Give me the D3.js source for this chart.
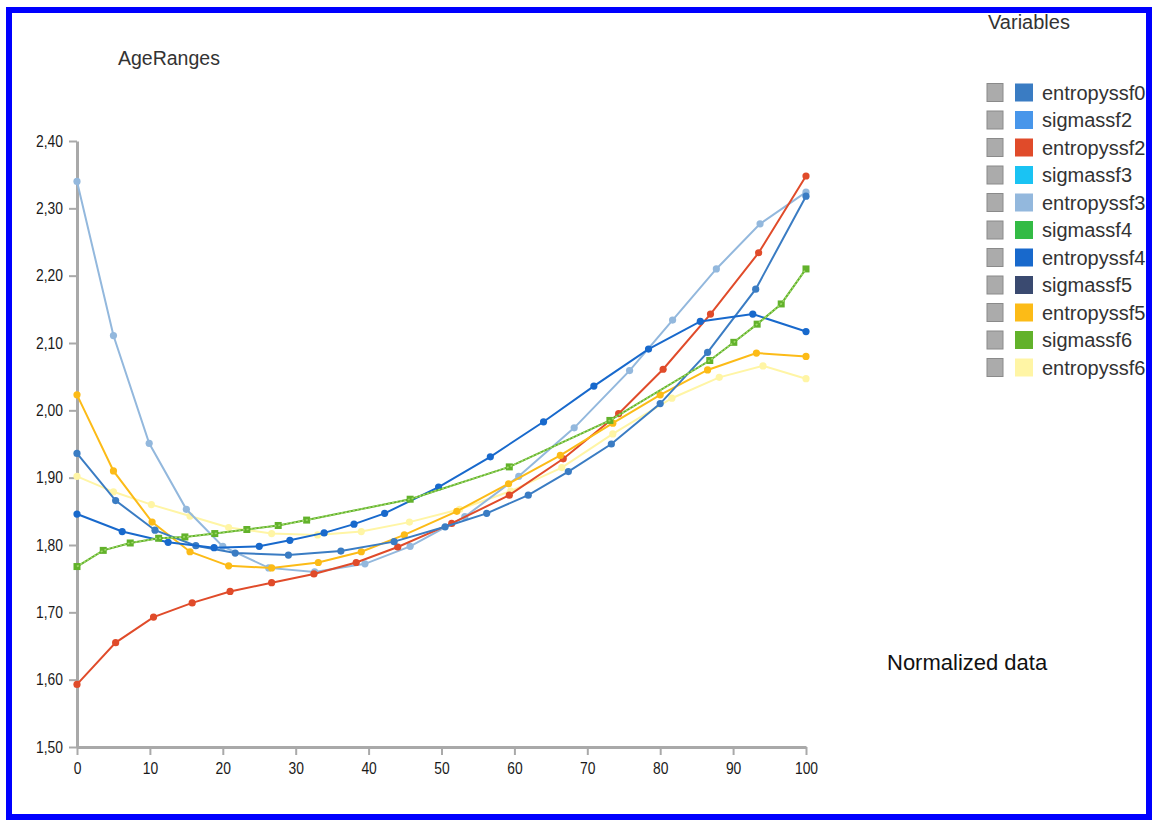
<!DOCTYPE html>
<html>
<head>
<meta charset="utf-8">
<script src="https://cdn.jsdelivr.net/npm/d3@7"></script>
<style>
  body { margin: 0; background: #fff; }
  svg { display: block; }
  text { font-family: "Liberation Sans", Arial, sans-serif; }
</style>
</head>
<body>
<div id="chart"></div>
<script>
// Chart data: [AgeRanges, value]
const xTicks = [0, 10, 20, 30, 40, 50, 60, 70, 80, 90, 100];
const yTicks = [1.5, 1.6, 1.7, 1.8, 1.9, 2.0, 2.1, 2.2, 2.3, 2.4];

const legendNames = ["entropyssf0", "sigmassf2", "entropyssf2", "sigmassf3", "entropyssf3",
  "sigmassf4", "entropyssf4", "sigmassf5", "entropyssf5", "sigmassf6", "entropyssf6"];
const legendColors = ["#3a7cc3", "#4896ea", "#e04b2a", "#1ac3f3", "#93b8dd",
  "#33bb45", "#1869cc", "#3a4a70", "#fcbb17", "#62b22b", "#fff5a5"];

const entropyssf6 = [[0, 1.902], [5, 1.879], [10.2, 1.860], [15.5, 1.843], [20.8, 1.826], [26.7, 1.817],
  [33, 1.815], [39, 1.820], [45.6, 1.834], [52.5, 1.853], [59.5, 1.880], [66.5, 1.915], [73.5, 1.965],
  [81.6, 2.018], [88.1, 2.049], [94.1, 2.066], [100, 2.047]];
const entropyssf3 = [[0, 2.340], [5, 2.111], [9.9, 1.951], [15, 1.853], [20, 1.798], [26.3, 1.766],
  [32.6, 1.760], [39.5, 1.772], [45.7, 1.798], [53.2, 1.842], [60.6, 1.902], [68.2, 1.974], [75.8, 2.059],
  [81.7, 2.134], [87.7, 2.210], [93.7, 2.277], [100, 2.324]];
const entropyssf2 = [[0, 1.593], [5.3, 1.655], [10.5, 1.693], [15.8, 1.714], [21, 1.731], [26.7, 1.744],
  [32.5, 1.757], [38.3, 1.774], [44, 1.797], [51.4, 1.832], [59.3, 1.874], [66.7, 1.928], [74.3, 1.995],
  [80.4, 2.061], [86.9, 2.143], [93.5, 2.234], [100, 2.348]];
const entropyssf5 = [[0, 2.023], [5, 1.910], [10.3, 1.834], [15.5, 1.790], [20.8, 1.769], [26.7, 1.766],
  [33.1, 1.774], [39, 1.790], [44.9, 1.815], [52.1, 1.850], [59.2, 1.891], [66.3, 1.933], [73.5, 1.981],
  [80, 2.023], [86.5, 2.060], [93.2, 2.085], [100, 2.080]];
const entropyssf0 = [[0, 1.936], [5.3, 1.866], [10.7, 1.822], [16.3, 1.799], [21.7, 1.788], [29, 1.785],
  [36.2, 1.791], [43.5, 1.805], [50.5, 1.827], [56.2, 1.847], [61.9, 1.874], [67.4, 1.909], [73.3, 1.950],
  [80, 2.010], [86.5, 2.086], [93.1, 2.180], [100, 2.318]];
const entropyssf4 = [[0, 1.846], [6.2, 1.820], [12.5, 1.804], [18.8, 1.796], [25, 1.798], [29.2, 1.807],
  [33.9, 1.818], [38, 1.831], [42.2, 1.847], [49.6, 1.886], [56.7, 1.931], [64, 1.983], [70.9, 2.036],
  [78.4, 2.091], [85.5, 2.132], [92.7, 2.143], [100, 2.117]];
const sigmassf4 = [[0, 1.768], [3.6, 1.792], [7.3, 1.803], [11.2, 1.810], [14.8, 1.812], [18.9, 1.817],
  [23.3, 1.823], [27.6, 1.829], [31.5, 1.837], [45.7, 1.868], [59.3, 1.916], [73.1, 1.985], [86.8, 2.074],
  [90.1, 2.101], [93.3, 2.128], [96.6, 2.158], [100, 2.210]];
const sigmassf6 = [[0, 1.768], [3.6, 1.792], [7.3, 1.803], [11.2, 1.810], [14.8, 1.812], [18.9, 1.817],
  [23.3, 1.823], [27.6, 1.829], [31.5, 1.837], [45.7, 1.868], [59.3, 1.916], [73.1, 1.985], [86.8, 2.074],
  [90.1, 2.101], [93.3, 2.128], [96.6, 2.158], [100, 2.210]];

// draw order, bottom first
const series = [
  { name: "entropyssf6", data: entropyssf6, marker: "circle" },
  { name: "entropyssf3", data: entropyssf3, marker: "circle" },
  { name: "entropyssf2", data: entropyssf2, marker: "circle" },
  { name: "entropyssf5", data: entropyssf5, marker: "circle" },
  { name: "entropyssf0", data: entropyssf0, marker: "circle" },
  { name: "entropyssf4", data: entropyssf4, marker: "circle" },
  { name: "sigmassf6", data: sigmassf6, marker: "square" },
  { name: "sigmassf4", data: sigmassf4, marker: "none", dash: "2,2" }
];

const W = 1153, H = 821;
const svg = d3.select("#chart").append("svg").attr("width", W).attr("height", H);

// blue frame
svg.append("rect")
  .attr("x", 9).attr("y", 10).attr("width", 1140).attr("height", 807)
  .attr("fill", "#fff").attr("stroke", "#0000ff").attr("stroke-width", 6);

const x = d3.scaleLinear().domain([0, 100]).range([77, 806]);
const y = d3.scaleLinear().domain([1.5, 2.4]).range([747, 141]);
const fmt = d => d3.format(".2f")(d).replace(".", ",");

const yAxis = svg.append("g")
  .attr("transform", "translate(77,0)")
  .call(d3.axisLeft(y).tickValues(yTicks).tickSize(8).tickSizeOuter(0).tickFormat(fmt));
const xAxis = svg.append("g")
  .attr("transform", "translate(0,747)")
  .call(d3.axisBottom(x).tickValues(xTicks).tickSize(8).tickSizeOuter(0));

[yAxis, xAxis].forEach(g => {
  g.select(".domain").attr("stroke", "#a9a9a9").attr("stroke-width", 3);
  g.selectAll(".tick line").attr("stroke", "#a9a9a9").attr("stroke-width", 2);
  g.selectAll(".tick text").attr("fill", "#1a1a1a").style("font-size", "16.5px");
});
// narrow tick labels like the original
yAxis.selectAll(".tick text").attr("x", 0).attr("transform", "translate(-14,0) scale(0.84,1)");
xAxis.selectAll(".tick text").attr("y", 0).attr("transform", "translate(0,15) scale(0.84,1)");

const colorOf = name => legendColors[legendNames.indexOf(name)];
const line = d3.line().x(d => x(d[0])).y(d => y(d[1]));

series.forEach(s => {
  const c = s.name === "sigmassf4" ? "#9fd86a" : colorOf(s.name);
  svg.append("path")
    .datum(s.data)
    .attr("fill", "none")
    .attr("stroke", c)
    .attr("stroke-width", s.marker === "none" ? 1.6 : 2)
    .attr("stroke-dasharray", s.dash || null)
    .attr("d", line);

  if (s.marker === "circle") {
    svg.selectAll(null)
      .data(s.data)
      .enter().append("circle")
      .attr("cx", d => x(d[0]))
      .attr("cy", d => y(d[1]))
      .attr("r", 3.6)
      .attr("fill", c);
  } else if (s.marker === "square") {
    svg.selectAll(null)
      .data(s.data)
      .enter().append("rect")
      .attr("x", d => x(d[0]) - 3.5)
      .attr("y", d => y(d[1]) - 3.5)
      .attr("width", 7).attr("height", 7)
      .attr("fill", c);
  }
});

// titles
svg.append("text").attr("x", 118).attr("y", 65)
  .style("font-size", "19.5px").attr("fill", "#333").text("AgeRanges");
svg.append("text").attr("x", 988).attr("y", 29)
  .style("font-size", "20px").attr("fill", "#333").text("Variables");
svg.append("text").attr("x", 887).attr("y", 670)
  .style("font-size", "22px").attr("fill", "#111").text("Normalized data");

// legend
const legend = svg.append("g");
const rows = legend.selectAll("g")
  .data(legendNames)
  .enter().append("g")
  .attr("transform", (d, i) => `translate(0,${92.5 + i * 27.5})`);

rows.append("rect")
  .attr("x", 987).attr("y", -9).attr("width", 16).attr("height", 18)
  .attr("fill", "#ababab").attr("stroke", "#8a8a8a").attr("stroke-width", 1);
rows.append("rect")
  .attr("x", 1015).attr("y", -9).attr("width", 18).attr("height", 18)
  .attr("fill", (d, i) => legendColors[i]);
rows.append("text")
  .attr("x", 1042).attr("y", 7)
  .style("font-size", "20px")
  .attr("fill", "#333")
  .text(d => d);
</script>
</body>
</html>
